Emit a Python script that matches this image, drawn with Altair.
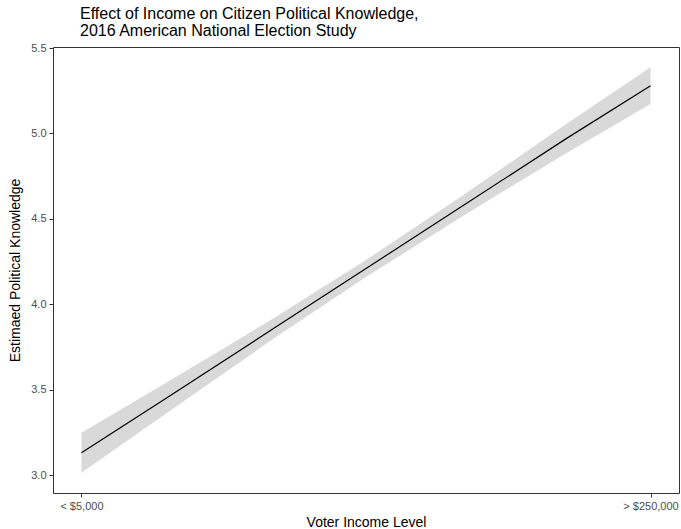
import altair as alt
import pandas as pd

# Income category (1 = lowest, 28 = highest) with fitted knowledge and 95% band
income_level = [1, 5, 10, 14.5, 19, 24, 28]
fit = [3.133, 3.45, 3.85, 4.21, 4.57, 4.97, 5.28]
lower = [3.016, 3.36, 3.79, 4.16, 4.51, 4.885, 5.173]
upper = [3.25, 3.54, 3.91, 4.26, 4.63, 5.055, 5.387]

tick_values = [1, 28]
tick_labels = ["< $5,000", "> $250,000"]
y_ticks = [3.0, 3.5, 4.0, 4.5, 5.0, 5.5]

df = pd.DataFrame({"income": income_level, "fit": fit, "lower": lower, "upper": upper})

label_expr = " : ".join(
    f"datum.value == {v} ? '{l}'" for v, l in zip(tick_values, tick_labels)
) + " : ''"

x_enc = alt.X(
    "income:Q",
    scale=alt.Scale(domain=[-0.35, 29.35], nice=False, zero=False),
    axis=alt.Axis(
        title="Voter Income Level",
        values=tick_values,
        labelExpr=label_expr,
        grid=False,
        domain=False,
        tickColor="#333333",
        tickSize=4,
        labelColor="#4D4D4D",
        labelFontSize=11,
        labelPadding=3,
        titleFontSize=14,
        titleFontWeight="normal",
        titleColor="#000000",
        titlePadding=4,
    ),
)
y_scale = alt.Scale(domain=[2.897, 5.506], nice=False, zero=False)
y_axis = alt.Axis(
    title="Estimaed Political Knowledge",
    values=y_ticks,
    format=".1f",
    grid=False,
    domain=False,
    tickColor="#333333",
    tickSize=4,
    labelColor="#4D4D4D",
    labelFontSize=11,
    labelPadding=3,
    titleFontSize=14,
    titleFontWeight="normal",
    titleColor="#000000",
    titlePadding=8,
)

band = alt.Chart(df).mark_area(color="#D9D9D9", opacity=1).encode(
    x=x_enc,
    y=alt.Y("lower:Q", scale=y_scale, axis=y_axis),
    y2="upper:Q",
)
line = alt.Chart(df).mark_line(color="#000000", strokeWidth=1.2).encode(
    x=x_enc,
    y=alt.Y("fit:Q", scale=y_scale, axis=y_axis),
)

chart = (
    alt.layer(band, line)
    .properties(
        width=626,
        height=446,
        autosize=alt.AutoSizeParams(type="none"),
        padding={"left": 53, "top": 47, "right": 2, "bottom": 36},
        title=alt.TitleParams(
            text=["Effect of Income on Citizen Political Knowledge,", "2016 American National Election Study"],
            anchor="start",
            frame="group",
            fontSize=16,
            fontWeight="normal",
            color="#000000",
            lineHeight=17,
            offset=6,
            dx=27,
            dy=3,
        ),
    )
    .configure(font="Liberation Sans")
    .configure_view(stroke="#333333", strokeWidth=1)
)

chart.save("out.html", embed_options={"renderer": "svg", "actions": False})
